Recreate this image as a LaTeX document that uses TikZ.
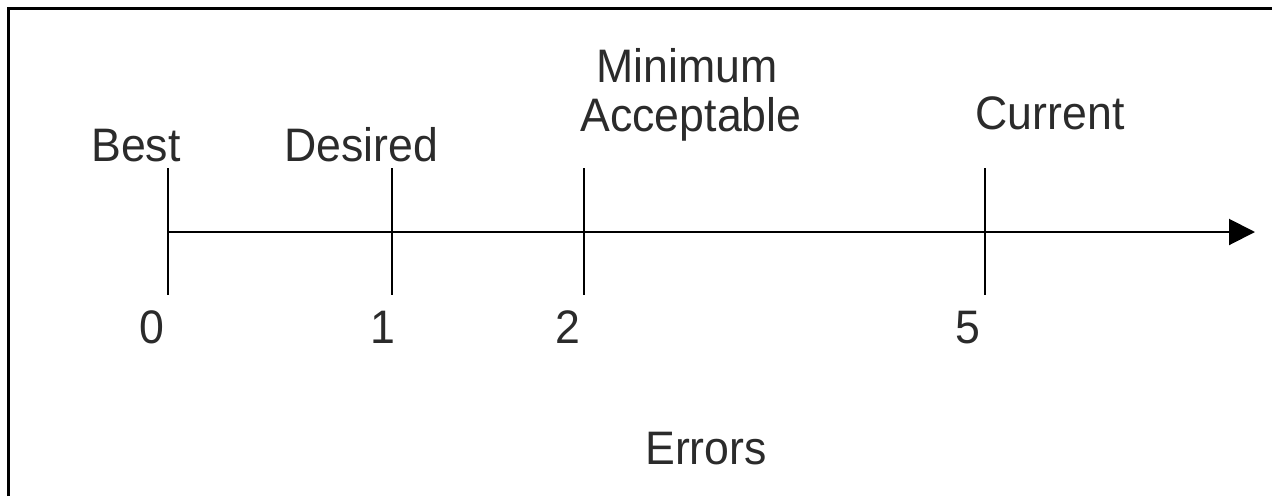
\documentclass[tikz,border=0pt]{standalone}
\usepackage{fontspec}
\setmainfont[FakeStretch=0.95]{Liberation Sans}
\usetikzlibrary{arrows.meta}
\definecolor{ink}{HTML}{2B2B2B}
\tikzset{
  lbl/.style={anchor=base, inner sep=0pt, text=ink, font=\fontsize{47}{52}\selectfont},
  tick/.style={line width=2pt},
  axis/.style={line width=2pt, -{Triangle[length=26pt,width=26pt]}},
  frame/.style={line width=3pt}
}
\begin{document}
\begin{tikzpicture}[x=1pt, y=-1pt]
  \useasboundingbox (0,0) rectangle (1272,496);
  % partial frame
  \draw[frame] (8,496) -- (8,8) -- (1272,8);

  % axis
  \coordinate (o) at (168,232);
  \coordinate (e) at (1255,232);
  \draw[axis] (o) -- (e);

  % ticks
  \coordinate (t0a) at (168,168); \coordinate (t0b) at (168,295);
  \coordinate (t1a) at (392,168); \coordinate (t1b) at (392,295);
  \coordinate (t2a) at (584,168); \coordinate (t2b) at (584,295);
  \coordinate (t5a) at (985,168); \coordinate (t5b) at (985,295);
  \draw[tick] (t0a) -- (t0b);
  \draw[tick] (t1a) -- (t1b);
  \draw[tick] (t2a) -- (t2b);
  \draw[tick] (t5a) -- (t5b);

  % labels above
  \node[lbl] (best) at (136,161) {Best};
  \node[lbl] (desired) at (361,161) {Desired};
  \node[lbl] (minimum) at (687,82) {Minimum};
  \node[lbl] (acceptable) at (691,131) {Acceptable};
  \node[lbl] (current) at (1050,129) {Current};

  % values below
  \node[lbl] (n0) at (152,343) {0};
  \node[lbl] (n1) at (383,343) {1};
  \node[lbl] (n2) at (568,343) {2};
  \node[lbl] (n5) at (968,343) {5};

  \node[lbl] (errors) at (706,464) {Errors};
\end{tikzpicture}
\end{document}
